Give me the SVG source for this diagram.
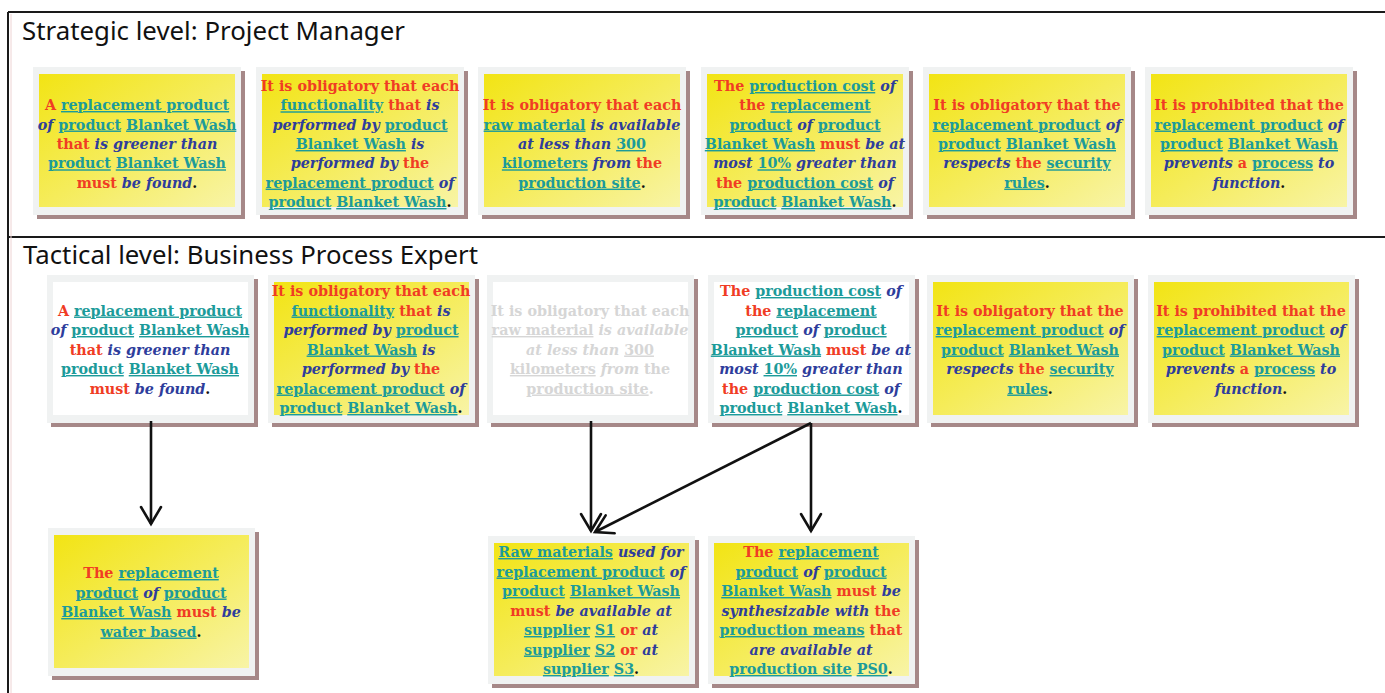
<svg xmlns="http://www.w3.org/2000/svg" width="1385" height="693" viewBox="0 0 1385 693">
<defs>
<linearGradient id="yg" x1="0" y1="0" x2="1" y2="1">
<stop offset="0" stop-color="#f2e414"/>
<stop offset="0.5" stop-color="#f5ec5a"/>
<stop offset="1" stop-color="#f8f4a6"/>
</linearGradient>
<marker id="ah" markerUnits="userSpaceOnUse" markerWidth="22" markerHeight="24" viewBox="-20 -12 22 24" refX="0" refY="0" orient="auto" overflow="visible">
<path d="M-17,-10 L0,0 L-17,10" fill="none" stroke="#111" stroke-width="2.6" stroke-linecap="round" stroke-linejoin="miter"/>
</marker>
</defs>
<style>
.frame{fill:none;stroke:#1a1a1a;stroke-width:2}
.title{font-family:"Noto Sans","Liberation Sans",sans-serif;font-size:25px;fill:#111}
.sh{fill:#a68888}
.fr{fill:#f0f2f2}
.yel{fill:url(#yg)}
.wht{fill:#ffffff}
.t{font-family:"DejaVu Serif","Liberation Serif",serif;font-weight:bold;font-size:14.3px;text-anchor:middle}
.r{fill:#f03c24}
.b{fill:#2e3d9c;font-style:italic}
.u{fill:#1c9b9a;text-decoration:underline}
.k{fill:#111}
.gray .r,.gray .b,.gray .u,.gray .k{fill:#d6d6d6}
.conn line{stroke:#111;stroke-width:2.6;marker-end:url(#ah)}
</style>
<rect width="1385" height="693" fill="#ffffff"/>
<g id="panels">
<line class="frame" x1="8" y1="12" x2="1385" y2="12"/>
<line class="frame" x1="8" y1="12" x2="8" y2="693"/>
<line class="frame" x1="8" y1="237" x2="1385" y2="237"/>
<line x1="11" y1="14" x2="11" y2="693" stroke="#eed4d4" stroke-width="1"/>
<text class="title" x="22" y="40" textLength="383" lengthAdjust="spacingAndGlyphs">Strategic level: Project Manager</text>
<text class="title" x="23" y="264" textLength="455" lengthAdjust="spacingAndGlyphs">Tactical level: Business Process Expert</text>
</g>

<!-- Strategic row -->
<g id="s1" transform="translate(33,67)">
<rect class="sh" x="4" y="4" width="208" height="148"/><rect class="fr" width="208" height="148"/><rect class="yel" x="6" y="7" width="196" height="133"/>
<text class="t" x="104" y="43"><tspan class="r">A</tspan> <tspan class="u">replacement product</tspan></text>
<text class="t" x="104" y="62.5"><tspan class="b">of</tspan> <tspan class="u">product</tspan> <tspan class="u">Blanket Wash</tspan></text>
<text class="t" x="104" y="82"><tspan class="r">that</tspan> <tspan class="b">is greener than</tspan></text>
<text class="t" x="104" y="101.3"><tspan class="u">product</tspan> <tspan class="u">Blanket Wash</tspan></text>
<text class="t" x="104" y="120.6"><tspan class="r">must</tspan> <tspan class="b">be found</tspan><tspan class="k">.</tspan></text>
</g>
<g id="s2" transform="translate(256,67)">
<rect class="sh" x="4" y="4" width="208" height="148"/><rect class="fr" width="208" height="148"/><rect class="yel" x="6" y="7" width="196" height="133"/>
<text class="t" x="104" y="24"><tspan class="r">It is obligatory that each</tspan></text>
<text class="t" x="104" y="43.3"><tspan class="u">functionality</tspan> <tspan class="r">that</tspan> <tspan class="b">is</tspan></text>
<text class="t" x="104" y="62.6"><tspan class="b">performed by</tspan> <tspan class="u">product</tspan></text>
<text class="t" x="104" y="82"><tspan class="u">Blanket Wash</tspan> <tspan class="b">is</tspan></text>
<text class="t" x="104" y="101.3"><tspan class="b">performed by</tspan> <tspan class="r">the</tspan></text>
<text class="t" x="104" y="120.6"><tspan class="u">replacement product</tspan> <tspan class="b">of</tspan></text>
<text class="t" x="104" y="140"><tspan class="u">product</tspan> <tspan class="u">Blanket Wash</tspan><tspan class="k">.</tspan></text>
</g>
<g id="s3" transform="translate(478,67)">
<rect class="sh" x="4" y="4" width="208" height="148"/><rect class="fr" width="208" height="148"/><rect class="yel" x="6" y="7" width="196" height="133"/>
<text class="t" x="104" y="43"><tspan class="r">It is obligatory that each</tspan></text>
<text class="t" x="104" y="62.5"><tspan class="u">raw material</tspan> <tspan class="b">is available</tspan></text>
<text class="t" x="104" y="82"><tspan class="b">at less than</tspan> <tspan class="u">300</tspan></text>
<text class="t" x="104" y="101.3"><tspan class="u">kilometers</tspan> <tspan class="b">from</tspan> <tspan class="r">the</tspan></text>
<text class="t" x="104" y="120.6"><tspan class="u">production site</tspan><tspan class="k">.</tspan></text>
</g>
<g id="s4" transform="translate(701,67)">
<rect class="sh" x="4" y="4" width="208" height="148"/><rect class="fr" width="208" height="148"/><rect class="yel" x="6" y="7" width="196" height="133"/>
<text class="t" x="104" y="24"><tspan class="r">The</tspan> <tspan class="u">production cost</tspan> <tspan class="b">of</tspan></text>
<text class="t" x="104" y="43.3"><tspan class="r">the</tspan> <tspan class="u">replacement</tspan></text>
<text class="t" x="104" y="62.6"><tspan class="u">product</tspan> <tspan class="b">of</tspan> <tspan class="u">product</tspan></text>
<text class="t" x="104" y="82"><tspan class="u">Blanket Wash</tspan> <tspan class="r">must</tspan> <tspan class="b">be at</tspan></text>
<text class="t" x="104" y="101.3"><tspan class="b">most</tspan> <tspan class="u">10%</tspan> <tspan class="b">greater than</tspan></text>
<text class="t" x="104" y="120.6"><tspan class="r">the</tspan> <tspan class="u">production cost</tspan> <tspan class="b">of</tspan></text>
<text class="t" x="104" y="140"><tspan class="u">product</tspan> <tspan class="u">Blanket Wash</tspan><tspan class="k">.</tspan></text>
</g>
<g id="s5" transform="translate(923,67)">
<rect class="sh" x="4" y="4" width="208" height="148"/><rect class="fr" width="208" height="148"/><rect class="yel" x="6" y="7" width="196" height="133"/>
<text class="t" x="104" y="43"><tspan class="r">It is obligatory that the</tspan></text>
<text class="t" x="104" y="62.5"><tspan class="u">replacement product</tspan> <tspan class="b">of</tspan></text>
<text class="t" x="104" y="82"><tspan class="u">product</tspan> <tspan class="u">Blanket Wash</tspan></text>
<text class="t" x="104" y="101.3"><tspan class="b">respects</tspan> <tspan class="r">the</tspan> <tspan class="u">security</tspan></text>
<text class="t" x="104" y="120.6"><tspan class="u">rules</tspan><tspan class="k">.</tspan></text>
</g>
<g id="s6" transform="translate(1145,67)">
<rect class="sh" x="4" y="4" width="208" height="148"/><rect class="fr" width="208" height="148"/><rect class="yel" x="6" y="7" width="196" height="133"/>
<text class="t" x="104" y="43"><tspan class="r">It is prohibited that the</tspan></text>
<text class="t" x="104" y="62.5"><tspan class="u">replacement product</tspan> <tspan class="b">of</tspan></text>
<text class="t" x="104" y="82"><tspan class="u">product</tspan> <tspan class="u">Blanket Wash</tspan></text>
<text class="t" x="104" y="101.3"><tspan class="b">prevents</tspan> <tspan class="r">a</tspan> <tspan class="u">process</tspan> <tspan class="b">to</tspan></text>
<text class="t" x="104" y="120.6"><tspan class="b">function</tspan><tspan class="k">.</tspan></text>
</g>

<!-- Tactical row -->
<g id="t1" transform="translate(47,275)">
<rect class="sh" x="4" y="4" width="207" height="148"/><rect class="fr" width="207" height="148"/><rect class="wht" x="6" y="7" width="195" height="133"/>
<text class="t" x="103" y="40.5"><tspan class="r">A</tspan> <tspan class="u">replacement product</tspan></text>
<text class="t" x="103" y="60"><tspan class="b">of</tspan> <tspan class="u">product</tspan> <tspan class="u">Blanket Wash</tspan></text>
<text class="t" x="103" y="79.5"><tspan class="r">that</tspan> <tspan class="b">is greener than</tspan></text>
<text class="t" x="103" y="99"><tspan class="u">product</tspan> <tspan class="u">Blanket Wash</tspan></text>
<text class="t" x="103" y="118.5"><tspan class="r">must</tspan> <tspan class="b">be found</tspan><tspan class="k">.</tspan></text>
</g>
<g id="t2" transform="translate(268,275)">
<rect class="sh" x="4" y="4" width="207" height="148"/><rect class="fr" width="207" height="148"/><rect class="yel" x="6" y="7" width="195" height="133"/>
<text class="t" x="103" y="21"><tspan class="r">It is obligatory that each</tspan></text>
<text class="t" x="103" y="40.5"><tspan class="u">functionality</tspan> <tspan class="r">that</tspan> <tspan class="b">is</tspan></text>
<text class="t" x="103" y="60"><tspan class="b">performed by</tspan> <tspan class="u">product</tspan></text>
<text class="t" x="103" y="79.5"><tspan class="u">Blanket Wash</tspan> <tspan class="b">is</tspan></text>
<text class="t" x="103" y="99"><tspan class="b">performed by</tspan> <tspan class="r">the</tspan></text>
<text class="t" x="103" y="118.5"><tspan class="u">replacement product</tspan> <tspan class="b">of</tspan></text>
<text class="t" x="103" y="138"><tspan class="u">product</tspan> <tspan class="u">Blanket Wash</tspan><tspan class="k">.</tspan></text>
</g>
<g id="t3" class="gray" transform="translate(487,275)">
<rect class="sh" x="4" y="4" width="207" height="148"/><rect class="fr" width="207" height="148"/><rect class="wht" x="6" y="7" width="195" height="133"/>
<text class="t" x="103" y="40.5"><tspan class="r">It is obligatory that each</tspan></text>
<text class="t" x="103" y="60"><tspan class="u">raw material</tspan> <tspan class="b">is available</tspan></text>
<text class="t" x="103" y="79.5"><tspan class="b">at less than</tspan> <tspan class="u">300</tspan></text>
<text class="t" x="103" y="99"><tspan class="u">kilometers</tspan> <tspan class="b">from</tspan> <tspan class="r">the</tspan></text>
<text class="t" x="103" y="118.5"><tspan class="u">production site</tspan><tspan class="k">.</tspan></text>
</g>
<g id="t4" transform="translate(708,275)">
<rect class="sh" x="4" y="4" width="207" height="148"/><rect class="fr" width="207" height="148"/><rect class="wht" x="6" y="7" width="195" height="133"/>
<text class="t" x="103" y="21"><tspan class="r">The</tspan> <tspan class="u">production cost</tspan> <tspan class="b">of</tspan></text>
<text class="t" x="103" y="40.5"><tspan class="r">the</tspan> <tspan class="u">replacement</tspan></text>
<text class="t" x="103" y="60"><tspan class="u">product</tspan> <tspan class="b">of</tspan> <tspan class="u">product</tspan></text>
<text class="t" x="103" y="79.5"><tspan class="u">Blanket Wash</tspan> <tspan class="r">must</tspan> <tspan class="b">be at</tspan></text>
<text class="t" x="103" y="99"><tspan class="b">most</tspan> <tspan class="u">10%</tspan> <tspan class="b">greater than</tspan></text>
<text class="t" x="103" y="118.5"><tspan class="r">the</tspan> <tspan class="u">production cost</tspan> <tspan class="b">of</tspan></text>
<text class="t" x="103" y="138"><tspan class="u">product</tspan> <tspan class="u">Blanket Wash</tspan><tspan class="k">.</tspan></text>
</g>
<g id="t5" transform="translate(927,275)">
<rect class="sh" x="4" y="4" width="207" height="148"/><rect class="fr" width="207" height="148"/><rect class="yel" x="6" y="7" width="195" height="133"/>
<text class="t" x="103" y="40.5"><tspan class="r">It is obligatory that the</tspan></text>
<text class="t" x="103" y="60"><tspan class="u">replacement product</tspan> <tspan class="b">of</tspan></text>
<text class="t" x="103" y="79.5"><tspan class="u">product</tspan> <tspan class="u">Blanket Wash</tspan></text>
<text class="t" x="103" y="99"><tspan class="b">respects</tspan> <tspan class="r">the</tspan> <tspan class="u">security</tspan></text>
<text class="t" x="103" y="118.5"><tspan class="u">rules</tspan><tspan class="k">.</tspan></text>
</g>
<g id="t6" transform="translate(1148,275)">
<rect class="sh" x="4" y="4" width="207" height="148"/><rect class="fr" width="207" height="148"/><rect class="yel" x="6" y="7" width="195" height="133"/>
<text class="t" x="103" y="40.5"><tspan class="r">It is prohibited that the</tspan></text>
<text class="t" x="103" y="60"><tspan class="u">replacement product</tspan> <tspan class="b">of</tspan></text>
<text class="t" x="103" y="79.5"><tspan class="u">product</tspan> <tspan class="u">Blanket Wash</tspan></text>
<text class="t" x="103" y="99"><tspan class="b">prevents</tspan> <tspan class="r">a</tspan> <tspan class="u">process</tspan> <tspan class="b">to</tspan></text>
<text class="t" x="103" y="118.5"><tspan class="b">function</tspan><tspan class="k">.</tspan></text>
</g>

<!-- Bottom row -->
<g id="b1" transform="translate(48,528)">
<rect class="sh" x="4" y="4" width="207" height="148"/><rect class="fr" width="207" height="148"/><rect class="yel" x="6" y="7" width="195" height="133"/>
<text class="t" x="103" y="50"><tspan class="r">The</tspan> <tspan class="u">replacement</tspan></text>
<text class="t" x="103" y="69.5"><tspan class="u">product</tspan> <tspan class="b">of</tspan> <tspan class="u">product</tspan></text>
<text class="t" x="103" y="89"><tspan class="u">Blanket Wash</tspan> <tspan class="r">must</tspan> <tspan class="b">be</tspan></text>
<text class="t" x="103" y="108.5"><tspan class="u">water based</tspan><tspan class="k">.</tspan></text>
</g>
<g id="b2" transform="translate(488,536)">
<rect class="sh" x="4" y="4" width="207" height="148"/><rect class="fr" width="207" height="148"/><rect class="yel" x="6" y="7" width="195" height="133"/>
<text class="t" x="103" y="21"><tspan class="u">Raw materials</tspan> <tspan class="b">used for</tspan></text>
<text class="t" x="103" y="40.5"><tspan class="u">replacement product</tspan> <tspan class="b">of</tspan></text>
<text class="t" x="103" y="60"><tspan class="u">product</tspan> <tspan class="u">Blanket Wash</tspan></text>
<text class="t" x="103" y="79.5"><tspan class="r">must</tspan> <tspan class="b">be available at</tspan></text>
<text class="t" x="103" y="99"><tspan class="u">supplier</tspan> <tspan class="u">S1</tspan> <tspan class="r">or</tspan> <tspan class="b">at</tspan></text>
<text class="t" x="103" y="118.5"><tspan class="u">supplier</tspan> <tspan class="u">S2</tspan> <tspan class="r">or</tspan> <tspan class="b">at</tspan></text>
<text class="t" x="103" y="138"><tspan class="u">supplier</tspan> <tspan class="u">S3</tspan><tspan class="k">.</tspan></text>
</g>
<g id="b3" transform="translate(708,536)">
<rect class="sh" x="4" y="4" width="207" height="148"/><rect class="fr" width="207" height="148"/><rect class="yel" x="6" y="7" width="195" height="133"/>
<text class="t" x="103" y="21"><tspan class="r">The</tspan> <tspan class="u">replacement</tspan></text>
<text class="t" x="103" y="40.5"><tspan class="u">product</tspan> <tspan class="b">of</tspan> <tspan class="u">product</tspan></text>
<text class="t" x="103" y="60"><tspan class="u">Blanket Wash</tspan> <tspan class="r">must</tspan> <tspan class="b">be</tspan></text>
<text class="t" x="103" y="79.5"><tspan class="b">synthesizable with</tspan> <tspan class="r">the</tspan></text>
<text class="t" x="103" y="99"><tspan class="u">production means</tspan> <tspan class="r">that</tspan></text>
<text class="t" x="103" y="118.5"><tspan class="b">are available at</tspan></text>
<text class="t" x="103" y="138"><tspan class="u">production site</tspan> <tspan class="u">PS0</tspan><tspan class="k">.</tspan></text>
</g>

<g id="connectors" class="conn">
<line x1="151" y1="421" x2="151" y2="524"/>
<line x1="591" y1="421" x2="591" y2="531"/>
<line x1="811" y1="423" x2="595" y2="532"/>
<line x1="811" y1="423" x2="811" y2="531"/>
</g>
</svg>
